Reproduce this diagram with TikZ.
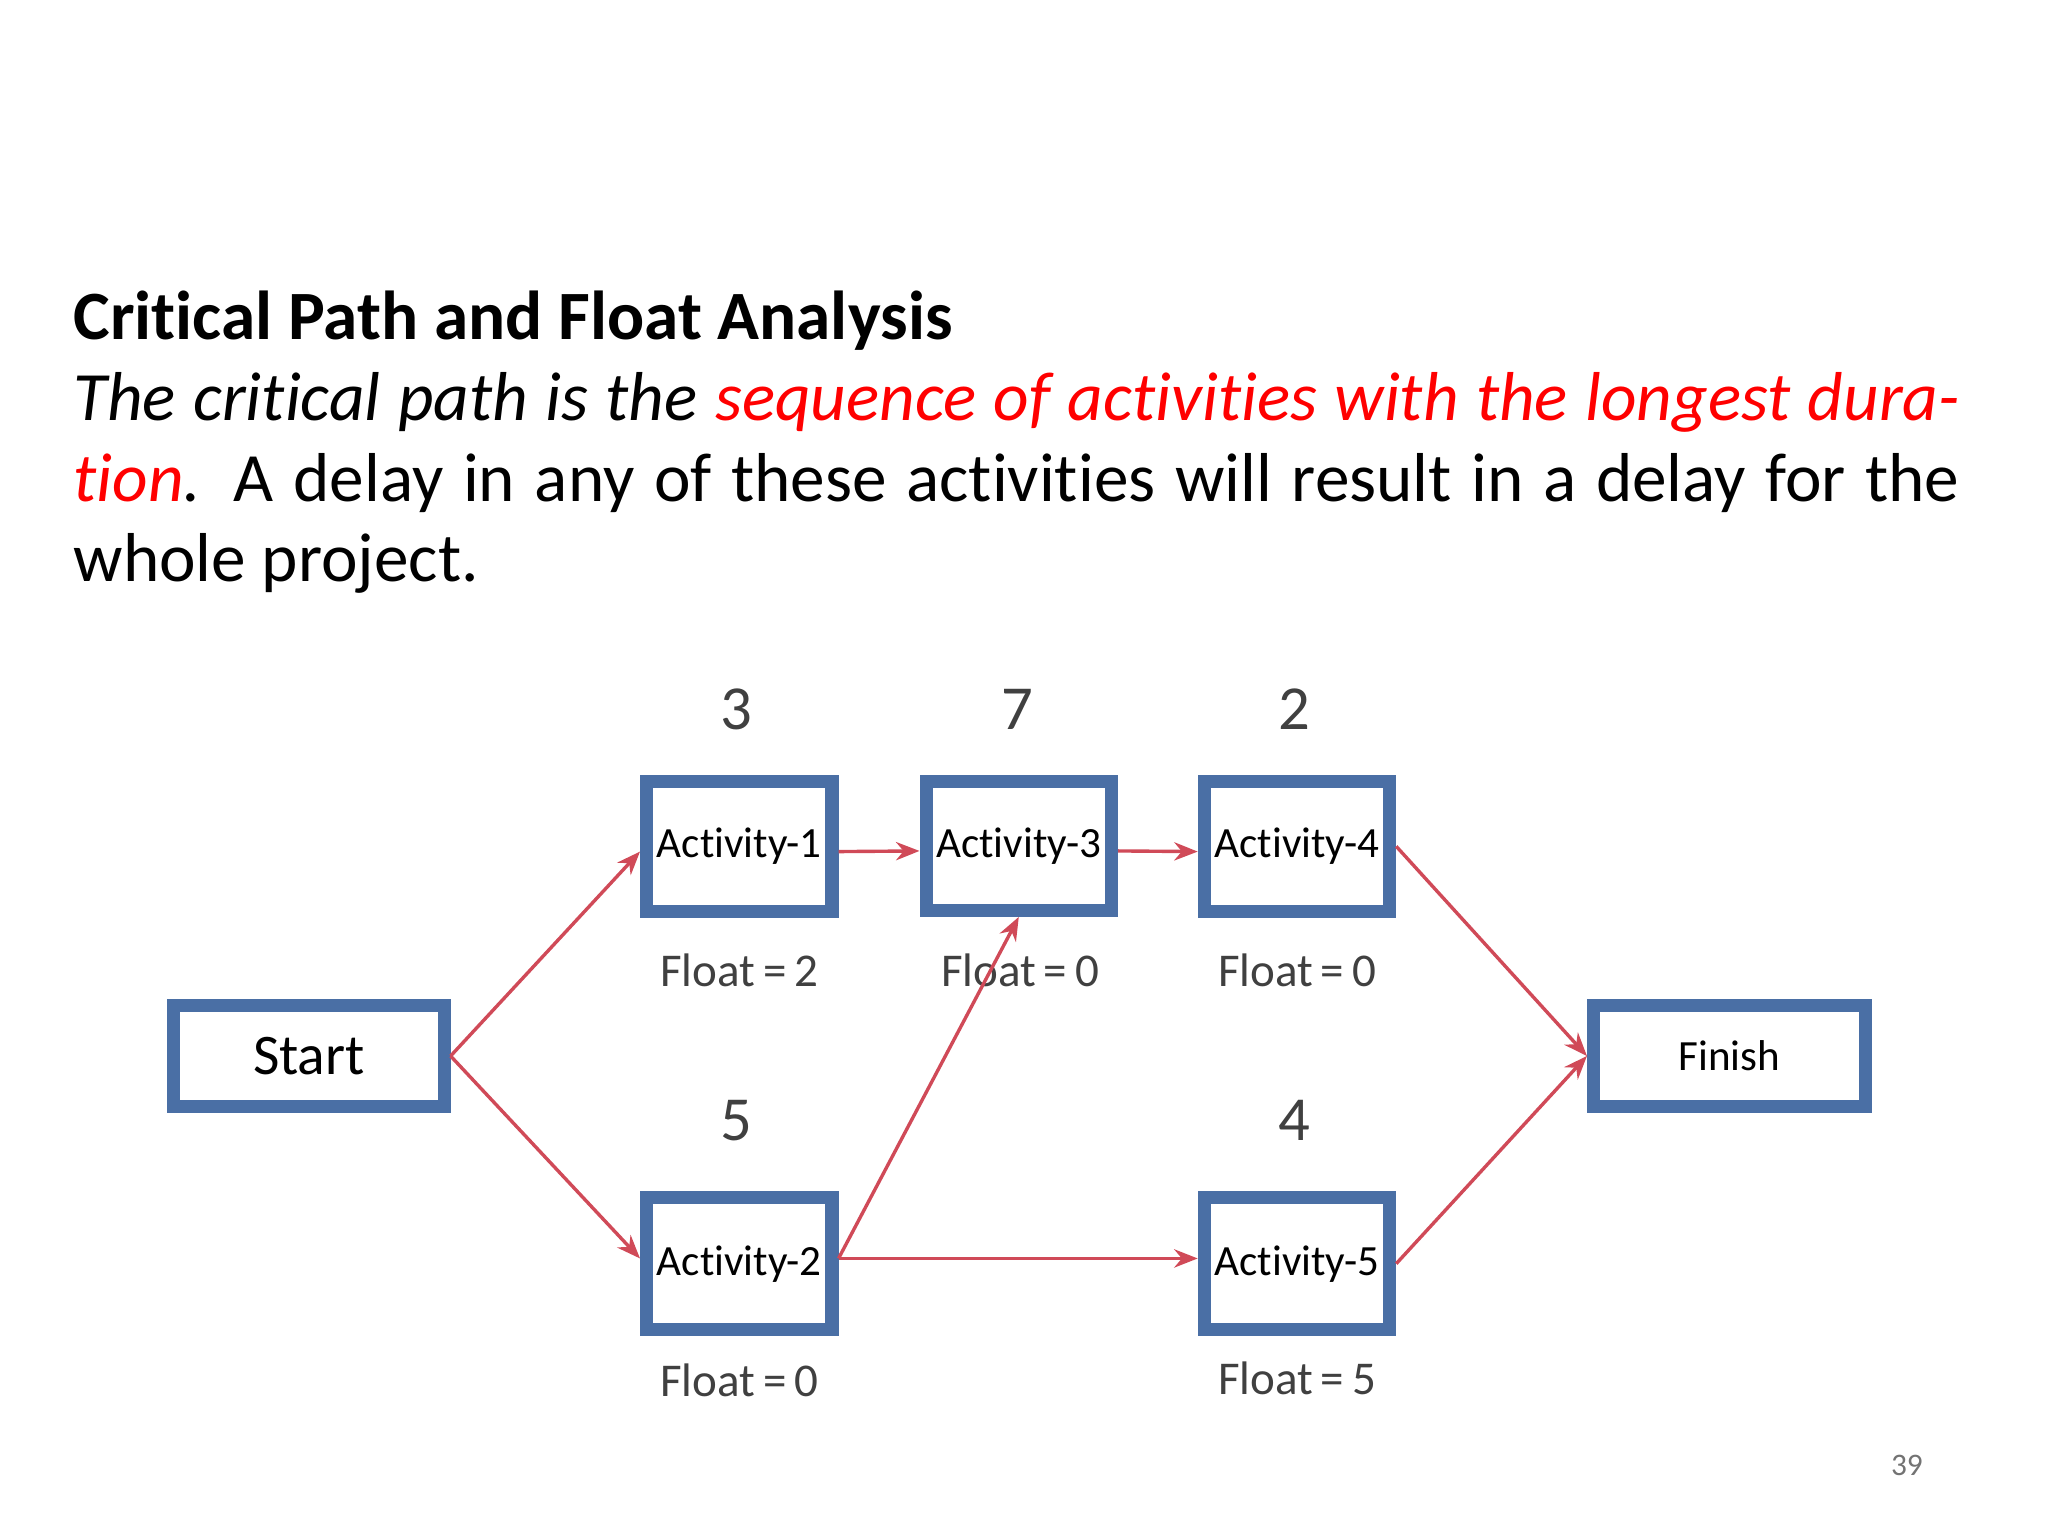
\documentclass[tikz,border=0pt]{standalone}
\usepackage{fontspec}
\setmainfont[Ligatures=NoCommon]{Carlito}
\usetikzlibrary{arrows.meta}
\definecolor{bx}{HTML}{4A6FA5}
\definecolor{ar}{HTML}{D04A58}
\begin{document}
\begin{tikzpicture}[x=0.5pt,y=-0.5pt,
  box/.style={draw=bx,line width=5pt,fill=white,inner sep=0pt,font=\fontsize{16.5}{20}\selectfont},
  lab/.style={font=\fontsize{18}{22}\selectfont,text=black!75},
  num/.style={font=\fontsize{24}{28}\selectfont,text=black!75},
  con/.style={draw=ar,line width=1.3pt,-{Stealth[length=9pt,width=7pt]}}]
\useasboundingbox (0,0) rectangle (1568,1176);
\node[anchor=north west,inner sep=0pt,text width=722pt,align=justify,font=\fontsize{26.5}{31}\selectfont] (txt) at (56,222)
{\textbf{Critical Path and Float Analysis}\\
\textit{The critical path is the \textcolor{red}{sequence of activities with the longest duration}.} A delay in any of these activities will result in a delay for the whole project.};
\def\bx#1#2#3#4#5#6{\node[box,minimum width={(#4-#2)*0.5pt-5pt},minimum height={(#5-#3)*0.5pt-5pt}] (#1) at ({(#2+#4)/2},{(#3+#5)/2}) {#6};}
\bx{start}{128}{765}{345}{852}{\fontsize{22}{26}\selectfont Start}
\bx{a1}{490}{593}{642}{703}{Activity-1}
\bx{a3}{704}{593}{856}{702}{Activity-3}
\bx{a4}{917}{593}{1069}{703}{Activity-4}
\bx{a2}{490}{912}{642}{1023}{Activity-2}
\bx{a5}{917}{912}{1069}{1023}{Activity-5}
\bx{fin}{1215}{765}{1433}{852}{Finish}
\node[num] (n1) at (564,543) {3};
\node[num] (n3) at (779,543) {7};
\node[num] (n4) at (991,543) {2};
\node[num] (n2) at (564,858) {5};
\node[num] (n5) at (991,858) {4};
\node[lab] (f1) at (566,743) {Float\,=\,2};
\node[lab] (f3) at (781,743) {Float\,=\,0};
\node[lab] (f4) at (993,743) {Float\,=\,0};
\node[lab] (f2) at (566,1057) {Float\,=\,0};
\node[lab] (f5) at (993,1055) {Float\,=\,5};
\node[font=\fontsize{12}{14}\selectfont,text=black!55] (pg) at (1460,1122) {39};
\draw[con] (start.east) -- ([yshift=-2pt]a1.west);
\draw[con] (start.east) -- ([yshift=2pt]a2.west);
\draw[con] ([yshift=-2pt]a1.east) -- ([yshift=-2pt]a3.west);
\draw[con] ([yshift=-2pt]a3.east) -- ([yshift=-2pt]a4.west);
\draw[con] ([yshift=2pt]a2.east) -- (a3.south);
\draw[con] ([yshift=2pt]a2.east) -- ([yshift=2pt]a5.west);
\draw[con] (a4.east) -- (fin.west);
\draw[con] (a5.east) -- (fin.west);
\end{tikzpicture}
\end{document}
